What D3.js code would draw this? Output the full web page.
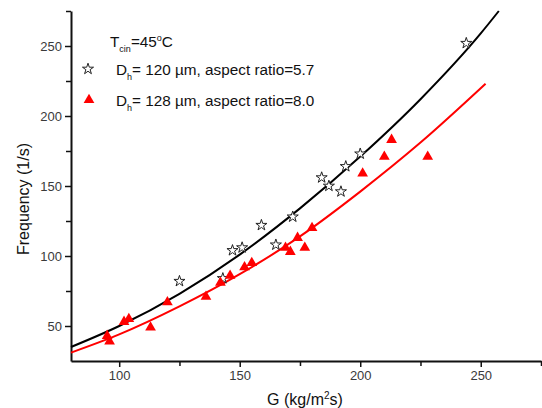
<!DOCTYPE html>
<html>
<head>
	<title>Frequency vs G</title>
	<style>
		body { margin: 0; background: #fff; }
		text { font-family: "Liberation Sans", Arial, sans-serif; }
		.tick-label { font-size: 13px; fill: #3a3a3a; }
		.axis-title { font-size: 16px; fill: #111; }
		.legend { font-size: 15.3px; fill: #111; }
	</style>
</head>
<body>
	<svg id="canvas" width="542" height="408"></svg>
	<script type="text/javascript" src="https://cdn.jsdelivr.net/npm/d3@7"></script>
	<script type="text/javascript">
		// measured points, Dh = 120 um (open stars)
		let starG    = [125, 143, 147, 151, 159, 165, 172, 184, 187, 192, 194, 200, 244];
		let starFreq = [ 82,  84, 104, 106, 122, 108, 128, 156, 150, 146, 164, 173, 252];

		// measured points, Dh = 128 um (red triangles)
		let triG    = [95, 96, 102, 104, 113, 120, 136, 142, 146, 152, 155, 169, 171, 174, 177, 180, 201, 210, 213, 228];
		let triFreq = [43, 39,  53,  55,  49,  67,  71,  81,  86,  92,  95, 106, 103, 113, 106, 120, 159, 171, 183, 171];

		// fitted curves
		let fitBlackG    = [80, 100, 125, 150, 175, 200, 225, 250, 257.5];
		let fitBlackFreq = [35,  50,  73, 101, 134, 171, 212, 259, 275];
		let fitRedG      = [80, 100, 125, 150, 175, 200, 225, 252];
		let fitRedFreq   = [31,  44,  64,  87, 114, 146, 181, 223];

		let xMajor = [100, 150, 200, 250];
		let xMinor = [125, 175, 225, 275];
		let yMajor = [50, 100, 150, 200, 250];
		let yMinor = [75, 125, 175, 225, 275];

		let svg = d3.select("#canvas");
		let margin = {top: 11, right: 1, bottom: 47, left: 71};
		let width = +svg.attr("width") - margin.left - margin.right;
		let height = +svg.attr("height") - margin.top - margin.bottom;

		let g = svg.append("g")
			.attr("transform", "translate(" + margin.left + "," + margin.top + ")");

		let x = d3.scaleLinear().domain([80, 275]).range([0, width]);
		let y = d3.scaleLinear().domain([25, 275]).range([height, 0]);

		// axes
		g.append("g")
			.attr("transform", "translate(0," + height + ")")
			.call(d3.axisBottom(x).tickValues(xMajor).tickSize(6).tickPadding(4).tickSizeOuter(0));
		g.append("g")
			.attr("transform", "translate(0," + height + ")")
			.call(d3.axisBottom(x).tickValues(xMinor).tickSize(5).tickFormat("").tickSizeOuter(0))
			.select(".domain").remove();

		g.append("g")
			.call(d3.axisLeft(y).tickValues(yMajor).tickSize(6).tickPadding(3).tickSizeOuter(0));
		g.append("g")
			.call(d3.axisLeft(y).tickValues(yMinor).tickSize(5).tickFormat("").tickSizeOuter(0))
			.select(".domain").remove();

		g.selectAll(".domain").attr("stroke", "#111").attr("stroke-width", 2);
		g.selectAll(".tick line").attr("stroke", "#111").attr("stroke-width", 1.5);
		g.selectAll(".tick text").attr("class", "tick-label").attr("font-size", null).attr("font-family", null);

		// axis titles
		let xt = svg.append("text")
			.attr("class", "axis-title")
			.attr("x", 305)
			.attr("y", 405)
			.attr("text-anchor", "middle");
		xt.append("tspan").text("G (kg/m");
		xt.append("tspan").attr("font-size", "10px").attr("dy", -6).text("2");
		xt.append("tspan").attr("dy", 6).text("s)");

		svg.append("text")
			.attr("class", "axis-title")
			.attr("transform", "translate(29,199) rotate(-90)")
			.attr("text-anchor", "middle")
			.text("Frequency (1/s)");

		// fit lines
		let line = d3.line()
			.x(function(d){ return x(d[0]); })
			.y(function(d){ return y(d[1]); })
			.curve(d3.curveMonotoneX);

		g.append("path")
			.datum(d3.zip(fitBlackG, fitBlackFreq))
			.attr("d", line)
			.attr("fill", "none")
			.attr("stroke", "#000")
			.attr("stroke-width", 2);

		g.append("path")
			.datum(d3.zip(fitRedG, fitRedFreq))
			.attr("d", line)
			.attr("fill", "none")
			.attr("stroke", "#ff0000")
			.attr("stroke-width", 2);

		// markers
		let star = d3.symbol().type(d3.symbolStar).size(38);
		let tri = d3.symbol().type(d3.symbolTriangle).size(50);

		g.selectAll(".star")
			.data(d3.zip(starG, starFreq))
			.enter().append("path")
				.attr("class", "star")
				.attr("d", star)
				.attr("transform", function(d){ return "translate(" + x(d[0]) + "," + y(d[1]) + ")"; })
				.attr("fill", "#fff")
				.attr("stroke", "#222")
				.attr("stroke-width", 1);

		g.selectAll(".tri")
			.data(d3.zip(triG, triFreq))
			.enter().append("path")
				.attr("class", "tri")
				.attr("d", tri)
				.attr("transform", function(d){ return "translate(" + x(d[0]) + "," + y(d[1]) + ")"; })
				.attr("fill", "#ff0000");

		// legend
		let t1 = svg.append("text").attr("class", "legend").attr("x", 110).attr("y", 47);
		t1.append("tspan").text("T");
		t1.append("tspan").attr("font-size", "9px").attr("dy", 5).text("cin");
		t1.append("tspan").attr("dy", -5).text("=45");
		t1.append("tspan").attr("font-size", "9px").attr("dy", -6).text("o");
		t1.append("tspan").attr("dy", 6).text("C");

		svg.append("path")
			.attr("d", star)
			.attr("transform", "translate(88,69)")
			.attr("fill", "#fff")
			.attr("stroke", "#222");
		let t2 = svg.append("text").attr("class", "legend").attr("x", 116).attr("y", 75);
		t2.append("tspan").text("D");
		t2.append("tspan").attr("font-size", "9px").attr("dy", 5).text("h");
		t2.append("tspan").attr("dy", -5).text("= 120 \u00b5m, aspect ratio=5.7");

		svg.append("path")
			.attr("d", tri)
			.attr("transform", "translate(89,100)")
			.attr("fill", "#ff0000");
		let t3 = svg.append("text").attr("class", "legend").attr("x", 116).attr("y", 106);
		t3.append("tspan").text("D");
		t3.append("tspan").attr("font-size", "9px").attr("dy", 5).text("h");
		t3.append("tspan").attr("dy", -5).text("= 128 \u00b5m, aspect ratio=8.0");
	</script>
</body>
</html>
